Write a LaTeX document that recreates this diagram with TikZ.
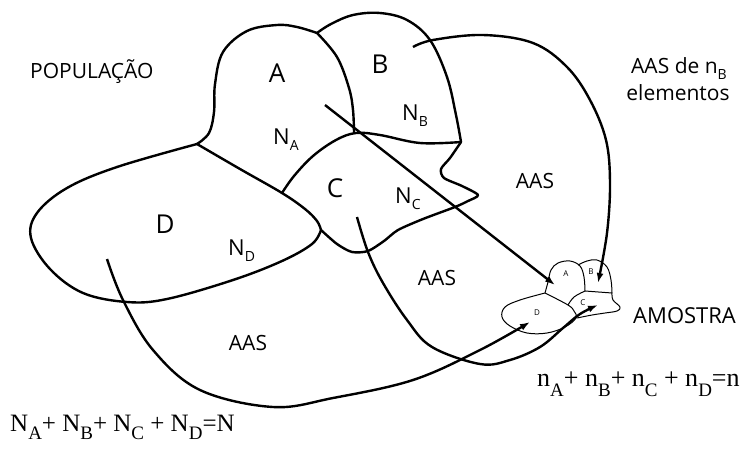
\documentclass[tikz,border=0pt]{standalone}
\usepackage{fontspec}
\setmainfont{Open Sans}
\newfontfamily\serifeq{Liberation Serif}
\usetikzlibrary{arrows.meta}
\newcommand\lbsub[1]{\raisebox{-6pt}{\fontsize{14}{14}\selectfont #1}}
\newcommand\eqsub[1]{\raisebox{-10pt}{\fontsize{19}{19}\selectfont #1}}
\newcommand\eqsubb[1]{\raisebox{-8pt}{\fontsize{19}{19}\selectfont #1}}
\begin{document}
\begin{tikzpicture}[x=1pt,y=-1pt,
  bd/.style={line width=2.4pt, line join=round, line cap=round},
  arr/.style={line width=2.4pt, -{Latex[length=10pt,width=7pt]}},
  thinln/.style={line width=1pt, line join=round},
  lbl/.style={inner sep=0pt, font=\fontsize{21}{21}\selectfont, anchor=base},
  big/.style={inner sep=0pt, font=\fontsize{26}{26}\selectfont, anchor=base},
  nl/.style={inner sep=0pt, font=\fontsize{22}{22}\selectfont, anchor=base west},
  sm/.style={inner sep=0pt, font=\fontsize{8}{8}\selectfont},
  eq/.style={inner sep=0pt, anchor=base west, font=\serifeq\fontsize{25}{25}\selectfont}]
\useasboundingbox (0,0) rectangle (744,448);

% ---- population regions ----
% A left side
\draw[bd] plot[smooth, tension=0.6] coordinates {(197,144) (209,133) (214,112) (215,84) (223,52) (247,31) (277,25) (297,27) (317,33)};
% A-B divider
\draw[bd] plot[smooth, tension=0.6] coordinates {(317,33) (337,57) (349,88) (353,110) (354,133)};
% B outer
\draw[bd] plot[smooth, tension=0.6] coordinates {(317,33) (331,24) (353,15) (380,13) (407,20) (430,40) (447,77) (456,115) (461,142)};
% C top + B bottom
\draw[bd] plot[smooth, tension=0.6] coordinates {(282,193) (294,176) (313,156) (336,140) (356,133) (380,135) (420,143) (461,142)};
% zigzag + C bottom
\draw[bd] plot[smooth, tension=0.45] coordinates {(461,142) (450,158) (441,169) (444,178) (462,186) (478,195) (468,201) (455,207) (423,219) (398,230) (384,241) (368,251) (352,252) (337,244) (321,230)};
% A-D divider
\draw[bd] plot[smooth, tension=0.6] coordinates {(197,144) (240,169) (282,193) (305,209) (317,221) (321,230)};
% D outline
\draw[bd] plot[smooth, tension=0.6] coordinates {(321,230) (312,244) (282,261) (233,280) (167,299) (127,302) (83,293) (50,269) (31,238) (37,213) (67,188) (117,167) (197,144)};

% ---- sample ----
\draw[thinln] plot[smooth, tension=0.6] coordinates {(545,293) (548,282) (551,270) (558,263) (570,261) (580,266) (584,277) (585,291)};
\draw[thinln] plot[smooth, tension=0.6] coordinates {(578,265) (587,261) (597,260) (607,267) (611,280) (612,293)};
\draw[thinln] (585,291) -- (612,293);
\draw[thinln] plot[smooth, tension=0.6] coordinates {(585,291) (574,297) (568,305)};
\draw[thinln] plot[smooth, tension=0.6] coordinates {(612,293) (613,300) (620,307) (617,311) (605,313) (592,315) (577,318)};
\draw[thinln] plot[smooth, tension=0.6] coordinates {(545,293) (520,300) (505,307) (502,317) (510,326) (527,333) (547,333) (565,327) (576,318) (574,311) (568,305) (545,293)};

% ---- sampling arrows ----
\coordinate (aS) at (325,105);
\coordinate (aE) at (555,285);
\draw[arr] (aS) -- (aE);
\draw[arr] plot[smooth, tension=0.6] coordinates {(413,47) (433,40) (483,35) (533,43) (567,67) (590,100) (606,140) (610,183) (607,233) (598,283)};
\draw[arr] plot[smooth, tension=0.6] coordinates {(357,217) (368,252) (383,283) (407,320) (432,347) (480,364) (510,360) (540,347) (563,328) (580,314) (598,305)};
\draw[arr] plot[smooth, tension=0.6] coordinates {(107,259) (123,300) (153,350) (200,390) (273,407) (333,398) (413,380) (480,350) (530,322)};

% ---- labels ----
\node[lbl, anchor=base west] (pop) at (30,78) {POPULAÇÃO};
\node[big] (lA) at (277,82) {A};
\node[big] (lB) at (380,73) {B};
\node[big] (lC) at (335,197) {C};
\node[big] (lD) at (165,233) {D};
\node[nl] (nA) at (273,144) {N\lbsub{A}};
\node[nl] (nB) at (402,120) {N\lbsub{B}};
\node[nl] (nC) at (395,203) {N\lbsub{C}};
\node[nl] (nD) at (228,255) {N\lbsub{D}};
\node[lbl] (aas1) at (535,188) {AAS};
\node[lbl] (aas2) at (437,285) {AAS};
\node[lbl] (aas3) at (248,350) {AAS};
\node[lbl] (aasB) at (679,73) {AAS de n\lbsub{B}};
\node[lbl] (elem) at (678,100) {elementos};
\node[lbl, anchor=base west, font=\fontsize{22}{22}\selectfont] (amo) at (633,323) {AMOSTRA};
\node[sm] (sA) at (566,274) {A};
\node[sm] (sB) at (591,272) {B};
\node[sm] (sC) at (583,303) {C};
\node[sm] (sD) at (537,313) {D};
\node[eq, font=\serifeq\fontsize{26}{26}\selectfont] (eqn) at (537,386) {n\eqsub{A}+ n\eqsub{B}+ n\eqsub{C} + n\eqsub{D}=n};
\node[eq] (eqN) at (10,431) {N\eqsubb{A}+ N\eqsubb{B}+ N\eqsubb{C} + N\eqsubb{D}=N};
\end{tikzpicture}
\end{document}
